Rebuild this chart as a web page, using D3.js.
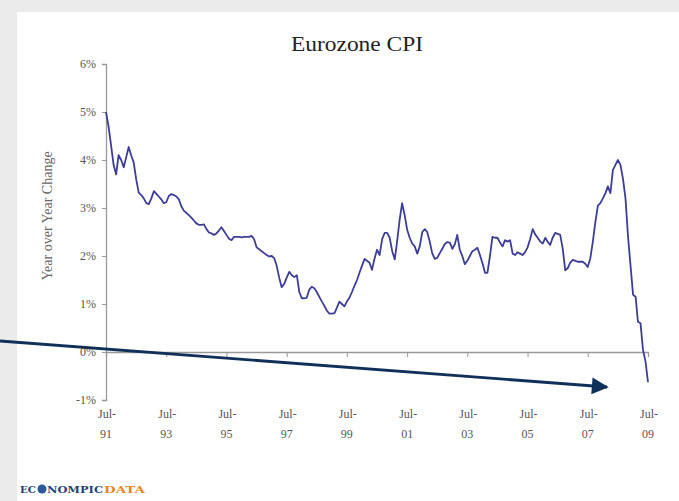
<!DOCTYPE html>
<html>
<head>
<meta charset="utf-8">
<script src="https://cdn.jsdelivr.net/npm/d3@7"></script>
<style>
  html, body { margin: 0; padding: 0; background: #ebebeb; }
  svg { display: block; }
</style>
</head>
<body>
<svg id="chart" width="679" height="501"></svg>
<script>
// ---- DATA ----
const title = "Eurozone CPI";
const yAxisTitle = "Year over Year Change";
const startMonth = "1991-07"; // first observation (Jul-91), monthly
// Year-over-year change, %, monthly from Jul 1991 to Jul 2009
const cpiValues = [
  5.0, 4.7, 4.3, 3.9, 3.7, 4.1, 4.0, 3.85, 4.05, 4.27, 4.1, 3.95,
  3.6, 3.32, 3.27, 3.2, 3.1, 3.08, 3.2, 3.35, 3.3, 3.24, 3.18, 3.1,
  3.12, 3.25, 3.29, 3.27, 3.24, 3.18, 3.03, 2.94, 2.9, 2.85, 2.8, 2.74,
  2.68, 2.65, 2.65, 2.66, 2.56, 2.49, 2.47, 2.44, 2.47, 2.53, 2.6, 2.52,
  2.44, 2.36, 2.33, 2.4, 2.4, 2.4, 2.39, 2.4, 2.4, 2.4, 2.42, 2.35,
  2.18, 2.14, 2.1, 2.06, 2.02, 1.99, 2.0, 1.95, 1.8, 1.55, 1.35, 1.42,
  1.55, 1.67, 1.6, 1.56, 1.6, 1.25, 1.12, 1.12, 1.13, 1.3, 1.36, 1.33,
  1.25, 1.15, 1.05, 0.96, 0.86, 0.8, 0.8, 0.81, 0.92, 1.05, 1.0, 0.95,
  1.05, 1.13, 1.25, 1.38, 1.5, 1.65, 1.8, 1.94, 1.9, 1.86, 1.71, 1.95,
  2.13, 2.02, 2.35, 2.48, 2.48, 2.38, 2.1, 1.93, 2.3, 2.75, 3.1, 2.85,
  2.55, 2.38, 2.26, 2.2, 2.05, 2.2, 2.5, 2.56, 2.5, 2.3, 2.06, 1.94,
  1.96, 2.06, 2.15, 2.25, 2.29, 2.28, 2.15, 2.25, 2.44, 2.13, 2.0, 1.83,
  1.9, 2.0, 2.1, 2.13, 2.17, 2.02, 1.85, 1.65, 1.65, 2.0, 2.4, 2.38,
  2.38, 2.28, 2.2, 2.33, 2.3, 2.33, 2.05, 2.02, 2.08, 2.05, 2.02, 2.08,
  2.18, 2.35, 2.56, 2.45, 2.38, 2.3, 2.26, 2.38, 2.3, 2.23, 2.38, 2.48,
  2.46, 2.44, 2.15, 1.7, 1.75, 1.86, 1.92, 1.9, 1.88, 1.88, 1.88, 1.84,
  1.77, 1.95, 2.3, 2.7, 3.05, 3.1, 3.2, 3.31, 3.45, 3.31, 3.79, 3.9,
  4.0, 3.9, 3.6, 3.2, 2.4, 1.8, 1.19, 1.15, 0.63, 0.6, 0.05, -0.2,
  -0.63
];
const yTicks = [-1, 0, 1, 2, 3, 4, 5, 6];
const xTickLabels = [["Jul-", "91"], ["Jul-", "93"], ["Jul-", "95"], ["Jul-", "97"], ["Jul-", "99"],
                     ["Jul-", "01"], ["Jul-", "03"], ["Jul-", "05"], ["Jul-", "07"], ["Jul-", "09"]];
const logoParts = ["EC", "NOMPIC", "DATA"];

// ---- LAYOUT ----
const svg = d3.select("#chart");
const serif = "'Liberation Serif', 'DejaVu Serif', serif";

// white chart panel
svg.append("rect").attr("x", 17).attr("y", 12).attr("width", 679 - 17).attr("height", 501 - 12)
  .attr("fill", "#ffffff");

const parse = d3.timeParse("%Y-%m");
const t0 = parse(startMonth);
const dates = cpiValues.map((v, i) => d3.timeMonth.offset(t0, i));
const data = cpiValues.map((v, i) => ({ date: dates[i], value: v }));

const x = d3.scaleTime().domain([dates[0], dates[dates.length - 1]]).range([106, 648]);
const y = d3.scaleLinear().domain([-1, 6]).range([400, 64]);

// title
svg.append("text").attr("x", 357).attr("y", 51).attr("text-anchor", "middle")
  .attr("font-family", serif).attr("font-size", 20).attr("fill", "#222")
  .attr("textLength", 132).attr("lengthAdjust", "spacingAndGlyphs")
  .text(title);

// y axis
const yAxis = svg.append("g").attr("transform", "translate(106,0)")
  .call(d3.axisLeft(y).tickValues(yTicks).tickSize(4).tickPadding(6).tickFormat(d => d + "%"));
yAxis.select(".domain").attr("stroke", "#999").attr("stroke-width", 1.3);
yAxis.selectAll(".tick line").attr("stroke", "#999");
yAxis.selectAll(".tick text").attr("font-family", serif).attr("font-size", 12).attr("fill", "#555");

// y axis title
svg.append("text").attr("transform", "translate(52,216) rotate(-90)")
  .attr("text-anchor", "middle").attr("font-family", serif).attr("font-size", 14)
  .attr("fill", "#666").text(yAxisTitle);

// x axis at 0%
const xTickDates = xTickLabels.map((d, i) => d3.timeMonth.offset(t0, 24 * i));
const xAxis = svg.append("g").attr("transform", `translate(0,${y(0)})`)
  .call(d3.axisBottom(x).tickValues(xTickDates).tickSize(5).tickFormat(""));
xAxis.select(".domain").attr("stroke", "#999").attr("stroke-width", 1.3);
xAxis.selectAll(".tick line").attr("stroke", "#999");

// x tick labels at the bottom (two lines)
const lab = svg.append("g").attr("font-family", serif).attr("font-size", 12).attr("fill", "#555")
  .attr("text-anchor", "middle");
xTickLabels.forEach((l, i) => {
  const cx = x(xTickDates[i]);
  lab.append("text").attr("x", cx + 1).attr("y", 418).text(l[0]);
  lab.append("text").attr("x", cx).attr("y", 438).text(l[1]);
});

// data line
const line = d3.line().x(d => x(d.date)).y(d => y(d.value));
svg.append("path").datum(data).attr("d", line)
  .attr("fill", "none").attr("stroke", "#3d3d98").attr("stroke-width", 1.8)
  .attr("stroke-linejoin", "round");

// annotation arrow
const defs = svg.append("defs");
defs.append("marker").attr("id", "arrowhead").attr("viewBox", "0 0 10 10")
  .attr("refX", 9).attr("refY", 5).attr("markerWidth", 6.2).attr("markerHeight", 6)
  .attr("markerUnits", "strokeWidth").attr("orient", "auto")
  .append("path").attr("d", "M0,0 L10,5 L0,10 Z").attr("fill", "#10305a");
svg.append("line").attr("x1", 0).attr("y1", 341).attr("x2", 607).attr("y2", 387)
  .attr("stroke", "#10305a").attr("stroke-width", 2.8).attr("marker-end", "url(#arrowhead)");

// logo
const logo = svg.append("g").attr("font-family", "'DejaVu Serif', serif").attr("font-weight", "bold")
  .attr("font-size", 10);
logo.append("text").attr("x", 20).attr("y", 493).attr("fill", "#1f3f78")
  .attr("textLength", 16).attr("lengthAdjust", "spacingAndGlyphs").text(logoParts[0]);
logo.append("circle").attr("cx", 42).attr("cy", 489).attr("r", 4.5).attr("fill", "#2a5a9a");
logo.append("text").attr("x", 47).attr("y", 493).attr("fill", "#1f3f78")
  .attr("textLength", 56).attr("lengthAdjust", "spacingAndGlyphs").text(logoParts[1]);
logo.append("text").attr("x", 104).attr("y", 493).attr("fill", "#e08a2a")
  .attr("textLength", 41).attr("lengthAdjust", "spacingAndGlyphs").text(logoParts[2]);
</script>
</body>
</html>
